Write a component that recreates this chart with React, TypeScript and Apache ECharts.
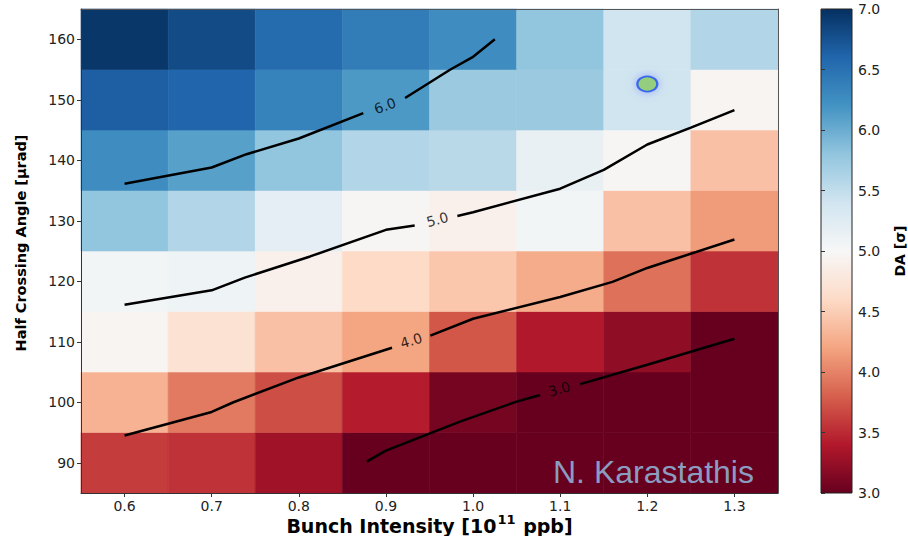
import React, { useEffect, useRef } from 'react';
import * as echarts from 'echarts';

// Bunch intensity [1e11 ppb] (x) and half crossing angle [urad] (y)
const intensities = [0.6, 0.7, 0.8, 0.9, 1.0, 1.1, 1.2, 1.3];
const crossingAngles = [90, 100, 110, 120, 130, 140, 150, 160];

// DA [sigma], one row per crossing angle (90 first), one column per intensity
const daRow90 = [3.6, 3.55, 3.3, 3.0, 3.0, 3.0, 3.0, 3.0];
const daRow100 = [4.3, 3.95, 3.7, 3.42, 3.08, 3.0, 3.0, 3.0];
const daRow110 = [4.95, 4.7, 4.4, 4.2, 3.75, 3.4, 3.22, 3.0];
const daRow120 = [5.05, 5.1, 4.9, 4.6, 4.45, 4.25, 3.9, 3.55];
const daRow130 = [5.8, 5.6, 5.2, 4.97, 4.9, 5.05, 4.4, 4.15];
const daRow140 = [6.25, 6.1, 5.8, 5.6, 5.55, 5.15, 4.97, 4.4];
const daRow150 = [6.65, 6.6, 6.35, 6.15, 5.75, 5.75, 5.4, 4.95];
const daRow160 = [6.95, 6.8, 6.55, 6.4, 6.25, 5.8, 5.4, 5.6];
const daRows = [daRow90, daRow100, daRow110, daRow120, daRow130, daRow140, daRow150, daRow160];

// Contour lines (split where the inline label sits)
const contour6 = [
  [[0.6, 136.1], [0.7, 138.8], [0.74, 141.0], [0.8, 143.6], [0.874, 147.8]],
  [[0.922, 150.3], [0.974, 155.0], [0.999, 157.0], [1.025, 160.0]],
];
const contour5 = [
  [[0.6, 116.1], [0.7, 118.5], [0.738, 120.6], [0.813, 124.1], [0.9, 128.5], [0.933, 129.2]],
  [[0.982, 130.8], [1.0, 131.4], [1.1, 135.3], [1.15, 138.4], [1.2, 142.6], [1.25, 145.4], [1.3, 148.3]],
];
const contour4 = [
  [[0.6, 94.5], [0.7, 98.4], [0.725, 100.0], [0.8, 104.1], [0.907, 109.0]],
  [[0.951, 111.0], [1.0, 113.8], [1.1, 117.4], [1.16, 119.9], [1.2, 122.2], [1.234, 123.8], [1.3, 126.9]],
];
const contour3 = [
  [[0.878, 90.2], [0.9, 92.0], [0.985, 96.8], [1.05, 100.1], [1.077, 101.2]],
  [[1.123, 103.0], [1.2, 106.2], [1.3, 110.5]],
];
const contourLabels = [
  [0.899, 149.0, '6.0'],
  [0.959, 130.2, '5.0'],
  [0.929, 110.2, '4.0'],
  [1.099, 102.2, '3.0'],
];
const contourLabelAngles = [20, 15, 17, 16];

// Marked working point
const workingPoint = [[1.2, 152.6]];

const xTicks = [0.6, 0.7, 0.8, 0.9, 1.0, 1.1, 1.2, 1.3];
const yTicks = [90, 100, 110, 120, 130, 140, 150, 160];
const colorbarRange = [3, 7];

const rdbu = ['#67001f', '#b2182b', '#d6604d', '#f4a582', '#fddbc7', '#f7f7f7', '#d1e5f0', '#92c5de', '#4393c3', '#2166ac', '#053061'];

const FONT = '"DejaVu Sans", sans-serif';
const TXT = '#222';

export default function App() {
  const ref = useRef<HTMLDivElement>(null);
  useEffect(() => {
    if (!ref.current) return;
    const chart = echarts.init(ref.current, undefined, { renderer: 'svg' });

    const cells: number[][] = [];
    crossingAngles.forEach((y, yi) => {
      intensities.forEach((x, xi) => cells.push([x, y, daRows[yi][xi]]));
    });
    const hx = (intensities[1] - intensities[0]) / 2;
    const hy = (crossingAngles[1] - crossingAngles[0]) / 2;

    const lineSeries: any[] = [];
    [contour6, contour5, contour4, contour3].forEach((segs) => {
      segs.forEach((seg) => {
        lineSeries.push({
          type: 'line',
          xAxisIndex: 0,
          yAxisIndex: 0,
          data: seg,
          symbol: 'none',
          smooth: false,
          lineStyle: { color: '#000', width: 2.5 },
          z: 4,
          silent: true,
        });
      });
    });

    const labelSeries = contourLabels.map((l, i) => ({
      type: 'scatter',
      xAxisIndex: 0,
      yAxisIndex: 0,
      data: [[l[0], l[1]]],
      symbolSize: 1,
      itemStyle: { color: 'rgba(0,0,0,0)' },
      label: {
        show: true,
        position: 'inside',
        formatter: String(l[2]),
        rotate: contourLabelAngles[i],
        color: '#000',
        fontSize: 14,
        fontFamily: FONT,
      },
      z: 5,
      silent: true,
    }));

    const option: any = {
      animation: false,
      textStyle: { fontFamily: FONT },
      grid: [
        { left: 81, right: 130, top: 9, bottom: 43, outerBoundsMode: 'none', containLabel: false },
        { left: 821, width: 31, top: 9, bottom: 43, outerBoundsMode: 'none', containLabel: false },
      ],
      xAxis: [
        {
          type: 'value',
          gridIndex: 0,
          min: 0.55,
          max: 1.35,
          z: 6,
          axisLine: { show: true, onZero: false, lineStyle: { color: '#333', width: 1 } },
          axisTick: { show: true, length: 4, customValues: xTicks, lineStyle: { color: '#333' } },
          axisLabel: { customValues: xTicks, formatter: (v: number) => v.toFixed(1), color: TXT, fontSize: 14, margin: 6, fontFamily: FONT },
          splitLine: { show: false },
          name: '{b|Bunch Intensity [10}{s|11}{b| ppb]}',
          nameLocation: 'middle',
          nameMoveOverlap: false,
          nameGap: 20,
          nameTextStyle: {
            fontWeight: 'bold',
            fontSize: 19,
            color: '#000',
            fontFamily: FONT,
            rich: {
              b: { fontWeight: 'bold', fontSize: 19, color: '#000', fontFamily: FONT, lineHeight: 22, verticalAlign: 'bottom' },
              s: { fontWeight: 'bold', fontSize: 13, color: '#000', fontFamily: FONT, lineHeight: 22, verticalAlign: 'top', padding: [0, 1, 0, 1] },
            },
          },
        },
        {
          type: 'value',
          gridIndex: 1,
          min: 0,
          max: 1,
          show: false,
        },
        {
          type: 'value',
          gridIndex: 0,
          position: 'top',
          min: 0.55,
          max: 1.35,
          z: 6,
          axisLine: { show: true, lineStyle: { color: '#555', width: 1 } },
          axisTick: { show: false },
          axisLabel: { show: false },
          splitLine: { show: false },
        },
      ],
      yAxis: [
        {
          type: 'value',
          gridIndex: 0,
          min: 85,
          max: 165,
          z: 6,
          axisLine: { show: true, onZero: false, lineStyle: { color: '#333', width: 1 } },
          axisTick: { show: true, length: 4, customValues: yTicks, lineStyle: { color: '#333' } },
          axisLabel: { customValues: yTicks, color: TXT, fontSize: 14, margin: 6, fontFamily: FONT },
          splitLine: { show: false },
          name: 'Half Crossing Angle [µrad]',
          nameLocation: 'middle',
          nameMoveOverlap: false,
          nameRotate: 90,
          nameGap: 53,
          nameTextStyle: { fontWeight: 'bold', fontSize: 14.5, color: '#000', fontFamily: FONT, padding: [0, 0, 0, 16] },
        },
        {
          type: 'value',
          gridIndex: 1,
          position: 'right',
          min: colorbarRange[0],
          max: colorbarRange[1],
          interval: 0.5,
          z: 6,
          axisLine: { show: false },
          axisTick: { show: true, length: 4, lineStyle: { color: '#333' } },
          axisLabel: { formatter: (v: number) => v.toFixed(1), color: TXT, fontSize: 14, margin: 6, fontFamily: FONT },
          splitLine: { show: false },
          name: 'DA [σ]',
          nameLocation: 'middle',
          nameMoveOverlap: false,
          nameRotate: 90,
          nameGap: 41,
          nameTextStyle: { fontWeight: 'bold', fontSize: 14, color: '#000', fontFamily: FONT },
        },
        {
          type: 'value',
          gridIndex: 0,
          position: 'right',
          min: 85,
          max: 165,
          z: 6,
          axisLine: { show: true, lineStyle: { color: '#555', width: 1 } },
          axisTick: { show: false },
          axisLabel: { show: false },
          splitLine: { show: false },
        },
      ],
      visualMap: {
        type: 'continuous',
        show: false,
        min: colorbarRange[0],
        max: colorbarRange[1],
        dimension: 2,
        seriesIndex: 0,
        inRange: { color: rdbu },
      },
      graphic: [
        {
          type: 'text',
          left: 553,
          top: 456,
          z: 100,
          style: {
            text: 'N. Karastathis',
            font: '32px "Liberation Sans", Arial, sans-serif',
            fill: '#8a9dc0',
          },
        },
      ],
      series: [
        {
          type: 'custom',
          xAxisIndex: 0,
          yAxisIndex: 0,
          data: cells,
          encode: { x: 0, y: 1 },
          silent: true,
          z: 1,
          renderItem: (params: any, api: any) => {
            const x = api.value(0);
            const y = api.value(1);
            const p0 = api.coord([x - hx, y + hy]);
            const p1 = api.coord([x + hx, y - hy]);
            const c = api.visual('color');
            return {
              type: 'rect',
              shape: { x: p0[0], y: p0[1], width: p1[0] - p0[0], height: p1[1] - p0[1] },
              style: { fill: c, stroke: c, lineWidth: 0.6 },
            };
          },
        },
        {
          type: 'custom',
          xAxisIndex: 1,
          yAxisIndex: 1,
          data: [[0, colorbarRange[0], colorbarRange[1]]],
          silent: true,
          renderItem: (params: any, api: any) => {
            const top = api.coord([0, api.value(2)]);
            const bot = api.coord([1, api.value(1)]);
            return {
              type: 'rect',
              shape: { x: top[0], y: top[1], width: bot[0] - top[0], height: bot[1] - top[1] },
              style: {
                fill: new echarts.graphic.LinearGradient(0, 1, 0, 0, rdbu.map((c, i) => ({ offset: i / (rdbu.length - 1), color: c }))),
                stroke: '#222',
                lineWidth: 1,
              },
            };
          },
        },
        ...lineSeries,
        ...labelSeries,
        {
          type: 'scatter',
          xAxisIndex: 0,
          yAxisIndex: 0,
          data: workingPoint,
          symbol: 'circle',
          symbolSize: [20, 15],
          itemStyle: {
            color: '#8fd14f',
            borderColor: '#1a4cff',
            borderWidth: 2,
            shadowBlur: 10,
            shadowColor: 'rgba(90,110,255,0.6)',
          },
          z: 6,
          silent: true,
        },
      ],
    };
    chart.setOption(option);
    return () => chart.dispose();
  }, []);
  return <div ref={ref} style={{ position: 'absolute', left: 0, top: 0, width: 908, height: 536 }} />;
}
